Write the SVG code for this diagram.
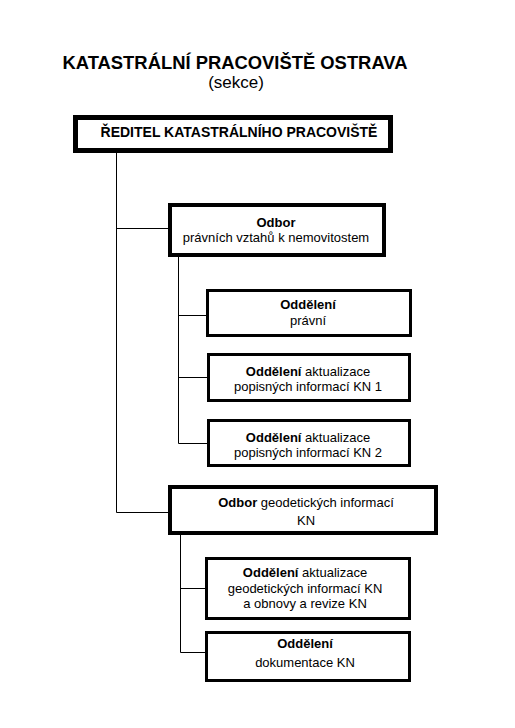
<svg xmlns="http://www.w3.org/2000/svg" width="515" height="728" viewBox="0 0 515 728">
<style>
text{font-family:"Liberation Sans",Arial,sans-serif;fill:#000;text-anchor:middle}
.t{font-size:13px}
b,.b{font-weight:bold}
.box{fill:#fff;stroke:#000}
.l{stroke:#000;stroke-width:1;fill:none}
</style>
<rect width="515" height="728" fill="#fff"/>
<text x="235" y="69" style="font-size:18.4px;font-weight:bold">KATASTRÁLNÍ PRACOVIŠTĚ OSTRAVA</text>
<text x="236" y="87.5" style="font-size:17px">(sekce)</text>
<g id="connectors">
<path class="l" d="M116.5 153V512.5H170M116 228.5H170"/>
<path class="l" d="M178.5 257V443.5H208M178 315.5H208M178 377.5H208"/>
<path class="l" d="M180.5 535V652.5H207M180 588.5H207"/>
</g>
<g id="reditel">
<rect class="box" x="75.5" y="117.5" width="315" height="33" stroke-width="5"/>
<text x="239" y="137" class="b" style="font-size:14px">ŘEDITEL KATASTRÁLNÍHO PRACOVIŠTĚ</text>
</g>
<g id="odbor1">
<rect class="box" x="170" y="205" width="214" height="50" stroke-width="4"/>
<text x="276" y="226.5" class="t b">Odbor</text>
<text x="276" y="241.5" class="t">právních vztahů k nemovitostem</text>
</g>
<g id="odd-pravni">
<rect class="box" x="207.5" y="290.5" width="203" height="45" stroke-width="3"/>
<text x="308" y="309" class="t b">Oddělení</text>
<text x="308" y="325" class="t">právní</text>
</g>
<g id="odd-kn1">
<rect class="box" x="208.5" y="354.5" width="201" height="46" stroke-width="3"/>
<text x="308" y="376" class="t"><tspan class="b">Oddělení</tspan> aktualizace</text>
<text x="308" y="391" class="t">popisných informací KN 1</text>
</g>
<g id="odd-kn2">
<rect class="box" x="208.5" y="420.5" width="201" height="45" stroke-width="3"/>
<text x="308" y="442" class="t"><tspan class="b">Oddělení</tspan> aktualizace</text>
<text x="308" y="457" class="t">popisných informací KN 2</text>
</g>
<g id="odbor2">
<rect class="box" x="170" y="487" width="266" height="46" stroke-width="4"/>
<text x="306" y="507" class="t"><tspan class="b">Odbor</tspan> geodetických informací</text>
<text x="306" y="525" class="t">KN</text>
</g>
<g id="odd-geod">
<rect class="box" x="206.5" y="558.5" width="203" height="60" stroke-width="3"/>
<text x="305" y="577" class="t"><tspan class="b">Oddělení</tspan> aktualizace</text>
<text x="305" y="593" class="t">geodetických informací KN</text>
<text x="305" y="608" class="t">a obnovy a revize KN</text>
</g>
<g id="odd-dok">
<rect class="box" x="206.5" y="632.5" width="203" height="48" stroke-width="3"/>
<text x="305" y="648" class="t b">Oddělení</text>
<text x="305" y="667" class="t">dokumentace KN</text>
</g>
</svg>
